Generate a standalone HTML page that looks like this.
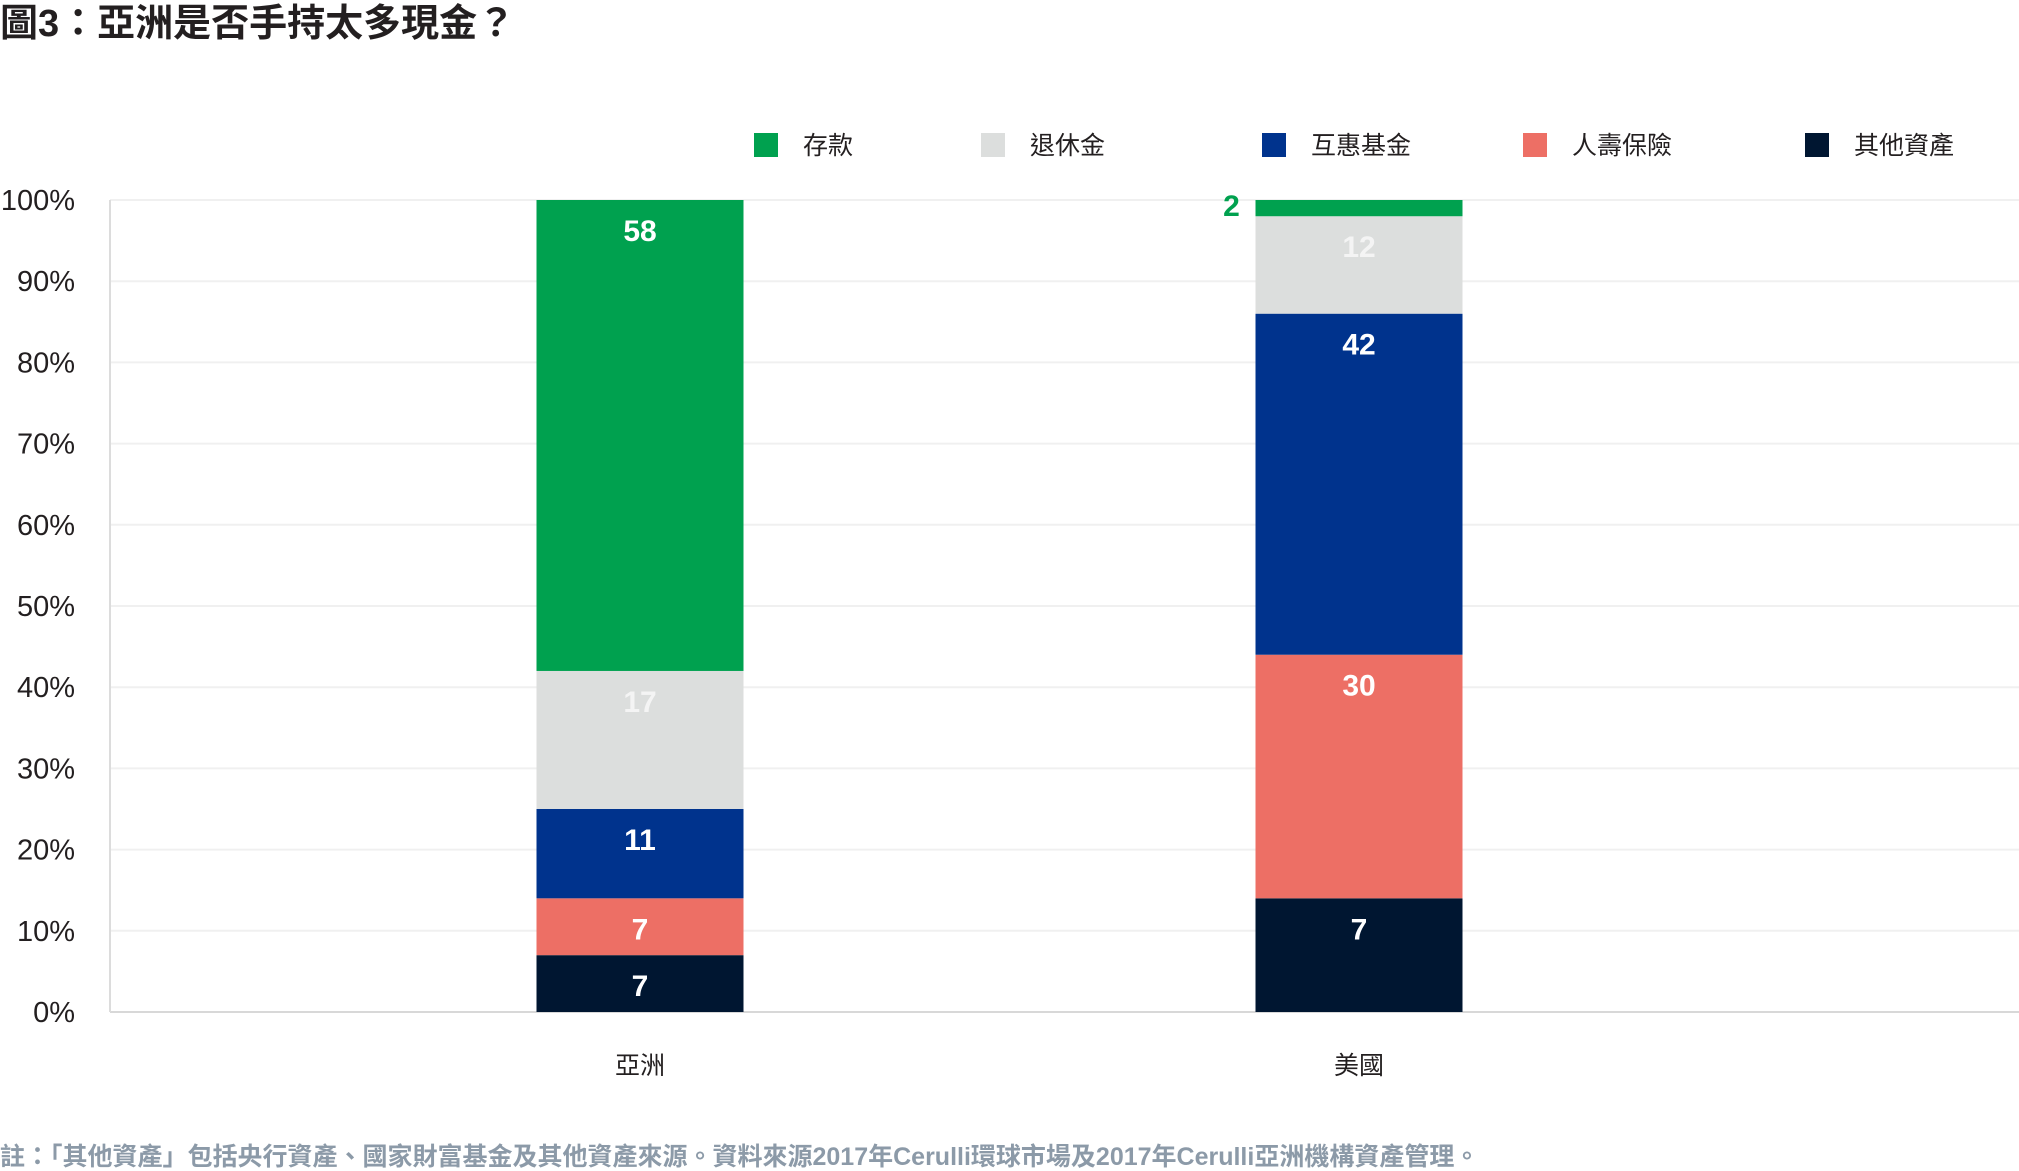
<!DOCTYPE html>
<html><head><meta charset="utf-8">
<style>
html,body{margin:0;padding:0;background:#fff;}
svg{display:block;}
text{font-family:"Liberation Sans Narrow","Liberation Sans","Noto Sans CJK TC",sans-serif;}
.cjk{font-family:"Liberation Sans","Noto Sans CJK TC",sans-serif;}
</style></head>
<body>
<svg id="chart" width="2019" height="1171" viewBox="0 0 2019 1171" xmlns="http://www.w3.org/2000/svg">
<text class="cjk" x="0" y="36" font-size="38" font-weight="bold" fill="#231f20">圖3：亞洲是否手持太多現金？</text>
<g id="grid"></g>
<g id="legend"></g>
<g id="bars"></g>
<text class="cjk" x="0" y="1165" font-size="25" font-weight="bold" fill="#8c9aa8">註：「其他資產」包括央行資產、國家財富基金及其他資產來源。資料來源2017年Cerulli環球市場及2017年Cerulli亞洲機構資產管理。</text>
</svg>
<script>
const categories = ["亞洲", "美國"];
const seriesNames = ["其他資產", "人壽保險", "互惠基金", "退休金", "存款"];
const otherVals = [7, 14];
const lifeVals = [7, 30];
const mutualVals = [11, 42];
const pensionVals = [17, 12];
const depositVals = [58, 2];
const otherLabels = ["7", "7"];
const lifeLabels = ["7", "30"];
const mutualLabels = ["11", "42"];
const pensionLabels = ["17", "12"];
const depositLabels = ["58", "2"];
const yTicks = [0, 10, 20, 30, 40, 50, 60, 70, 80, 90, 100];

const NS = "http://www.w3.org/2000/svg";
const colors = ["#001631", "#ed6f65", "#00338d", "#dcdedd", "#00a14f"];
const labelColors = ["#fff", "#fff", "#fff", "#f4f4f4", "#fff"];
const values = [otherVals, lifeVals, mutualVals, pensionVals, depositVals];
const labels = [otherLabels, lifeLabels, mutualLabels, pensionLabels, depositLabels];
const X0 = 110, X1 = 2019, Y0 = 1012, Y1 = 200;
const y = v => Y0 - (v / 100) * (Y0 - Y1);
const barCenters = [640, 1359];
const xc = i => barCenters[i];
const barW = 207;
function mk(tag, attrs, parent) { const e = document.createElementNS(NS, tag); for (const k in attrs) e.setAttribute(k, attrs[k]); parent.appendChild(e); return e; }

const grid = document.getElementById("grid");
yTicks.forEach(t => {
  const l = mk("line", {x1: X0, x2: X1, y1: y(t), y2: y(t), stroke: t === 0 ? "#d8d8d8" : "#f0f0f0", "stroke-width": 2}, grid);
  
  
  const tx = mk("text", {x: 75, y: y(t) + 10, "text-anchor": "end", "font-size": 29, fill: "#231f20"}, grid);
  tx.textContent = t + "%";
  
  
});
const ax = mk("line", {x1: X0, x2: X0, y1: Y1, y2: Y0, stroke: "#dcdcdc", "stroke-width": 2}, grid);



const bars = document.getElementById("bars");
categories.forEach((c, i) => {
  let cum = 0;
  values.forEach((arr, s) => {
    const v = arr[i];
    const top = y(cum + v), bot = y(cum);
    const r = mk("rect", {x: xc(i) - barW / 2, y: top, width: barW, height: bot - top, fill: colors[s]}, bars);
    
    
    const small = (bot - top) < 30;
    const t = mk("text", {x: small ? xc(i) - barW / 2 - 24 : xc(i), y: small ? top + 16 : top + 41, "text-anchor": "middle", "font-size": 30, "font-weight": "bold", fill: small ? colors[s] : labelColors[s]}, bars);
    t.textContent = labels[s][i];
    
    
    cum += v;
  });
  const xl = mk("text", {x: xc(i), y: 1074, "text-anchor": "middle", "font-size": 25, fill: "#231f20", class: "cjk"}, bars);
  xl.textContent = c;
  
  
});

const legend = document.getElementById("legend");
const legendOrder = [4, 3, 2, 1, 0];
const legendX = [754, 981, 1262, 1523, 1805];
legendOrder.forEach((s, k) => {
  const g = mk("g", {}, legend);
  
  
  mk("rect", {x: legendX[k], y: 133, width: 24, height: 24, fill: colors[s]}, g);
  const t = mk("text", {x: legendX[k] + 49, y: 154, "font-size": 25, fill: "#231f20", class: "cjk"}, g);
  t.textContent = seriesNames[s];
});
</script>
</body></html>
